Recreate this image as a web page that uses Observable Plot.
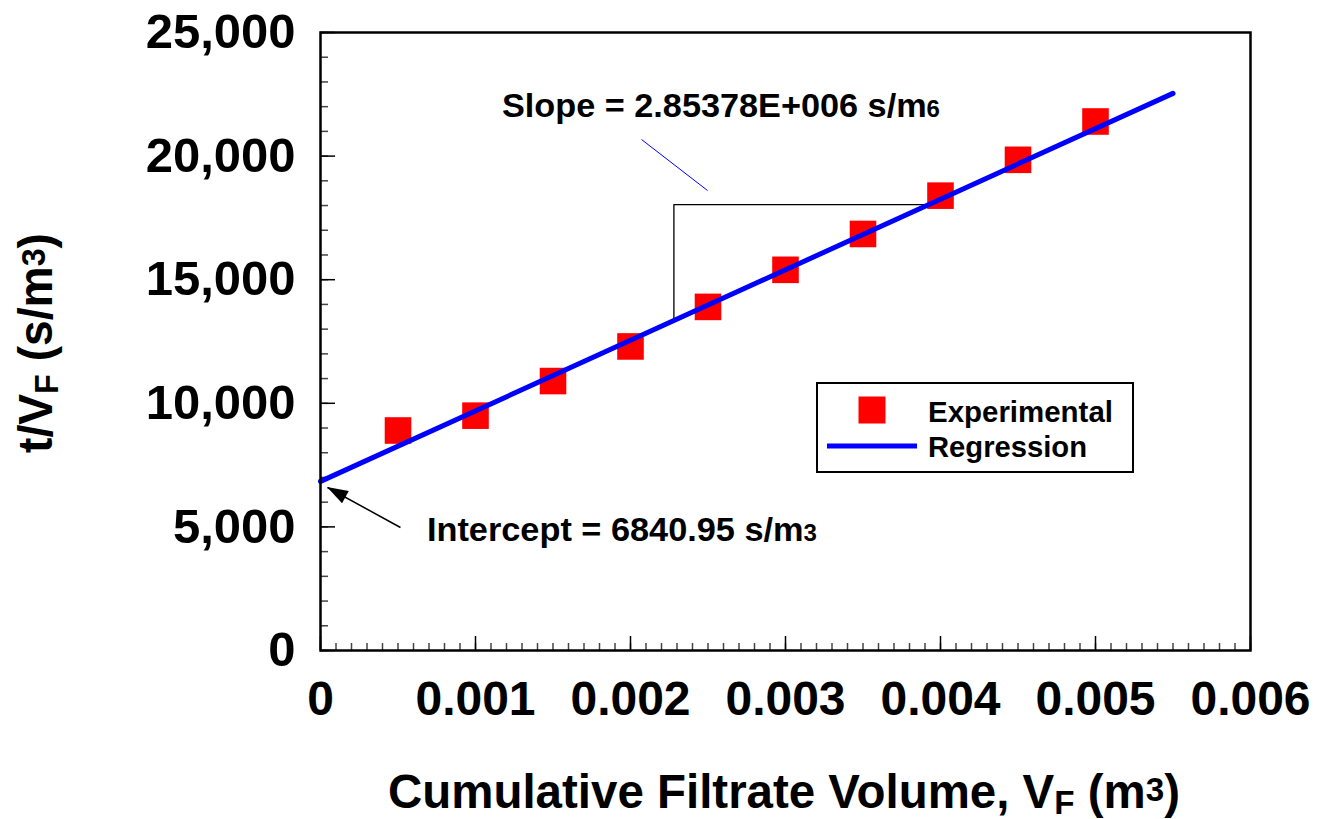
<!DOCTYPE html>
<html>
<head>
<meta charset="utf-8">
<script src="https://cdn.jsdelivr.net/npm/d3@7"></script>
<script src="https://cdn.jsdelivr.net/npm/@observablehq/plot@0.6"></script>
<style>
  body { margin: 0; background: #fff; }
  #chart svg { display: block; }
</style>
</head>
<body>
<div id="chart"></div>
<script>
// ---- data ----
const volume = [0.0005, 0.001, 0.0015, 0.002, 0.0025, 0.003, 0.0035, 0.004, 0.0045, 0.005];
const tOverV = [8900, 9500, 10900, 12300, 13900, 15400, 16850, 18400, 19850, 21400];
const regressionX = [0, 0.0055];
const regressionY = [6840.95, 22536.74];
const xTicks = [0, 0.001, 0.002, 0.003, 0.004, 0.005, 0.006];
const xTickLabels = ["0", "0.001", "0.002", "0.003", "0.004", "0.005", "0.006"];
const yTicks = [0, 5000, 10000, 15000, 20000, 25000];
const yTickLabels = ["0", "5,000", "10,000", "15,000", "20,000", "25,000"];
const seriesNames = ["Experimental", "Regression"];
const slopeLabel = "Slope = 2.85378E+006 s/m";
const interceptLabel = "Intercept = 6840.95 s/m";

const FONT = "'Liberation Sans', Arial, Helvetica, sans-serif";
const points = volume.map((v, i) => ({x: v, y: tOverV[i]}));
const regression = regressionX.map((v, i) => ({x: v, y: regressionY[i]}));
const xMinor = d3.ticks(0, 0.006, 60);
const yMinor = d3.ticks(0, 25000, 25);

const slopeTri = [
  {x: 0.00228, y: 13348},
  {x: 0.00228, y: 18040},
  {x: 0.003925, y: 18040}
];
const slopeLeader = [{x1: 0.002071, y1: 20672, x2: 0.002497, y2: 18608}];
const interceptArrow = [{x1: 0.000516, y1: 4976, x2: 0.0000452, y2: 6594}];

const plot = Plot.plot({
  width: 1318,
  height: 819,
  marginLeft: 320,
  marginRight: 68,
  marginTop: 32,
  marginBottom: 169,
  x: {domain: [0, 0.006], label: null},
  y: {domain: [0, 25000], label: null},
  style: {fontFamily: FONT, background: "white", overflow: "visible", color: "black"},
  marks: [
    // minor & major ticks pointing inward
    Plot.axisX(xMinor, {tickSize: 7, dy: -7, tickFormat: () => "", stroke: "#444", strokeWidth: 1.5}),
    Plot.axisX(xTicks, {tickSize: 14, dy: -14, tickFormat: () => "", stroke: "black", strokeWidth: 1.5}),
    Plot.axisY(yMinor, {tickSize: 8, dx: 8, tickFormat: () => "", stroke: "#444", strokeWidth: 1.5}),
    Plot.axisY(yTicks, {tickSize: 15, dx: 15, tickFormat: () => "", stroke: "black", strokeWidth: 1.5}),
    // tick labels
    Plot.axisX(xTicks, {tickSize: 0, tickPadding: 30, tickFormat: d => xTickLabels[xTicks.indexOf(d)],
      fontSize: 48, fontWeight: "bold", fill: "black"}),
    Plot.axisY(yTicks, {tickSize: 0, tickPadding: 25, tickFormat: d => yTickLabels[yTicks.indexOf(d)],
      fontSize: 49, fontWeight: "bold", fill: "black"}),
    // slope triangle & leader
    Plot.line(slopeTri, {x: "x", y: "y", stroke: "black", strokeWidth: 1.3}),
    Plot.link(slopeLeader, {x1: "x1", y1: "y1", x2: "x2", y2: "y2", stroke: "#0000ff", strokeWidth: 1}),
    // intercept arrow
    Plot.link(interceptArrow, {x1: "x1", y1: "y1", x2: "x2", y2: "y2", stroke: "black", strokeWidth: 1.5}),
    // data
    Plot.dot(points, {x: "x", y: "y", symbol: "square", r: 15, fill: "#ff0000", stroke: "none"}),
    Plot.line(regression, {x: "x", y: "y", stroke: "#0000ff", strokeWidth: 5}),
    Plot.frame({stroke: "black", strokeWidth: 2.5})
  ]
});

document.getElementById("chart").appendChild(plot);

const svg = d3.select(plot);
const sx = plot.scale("x"), sy = plot.scale("y");

// filled arrow head at the tip of the intercept arrow (drawn through the plot's scales)
{
  const a = interceptArrow[0];
  const x1 = sx.apply(a.x1), y1 = sy.apply(a.y1), x2 = sx.apply(a.x2), y2 = sy.apply(a.y2);
  const ang = Math.atan2(y2 - y1, x2 - x1) * 180 / Math.PI;
  svg.append("path")
    .attr("d", "M0,0 L-21,-7 L-21,7 Z")
    .attr("fill", "black")
    .attr("transform", `translate(${x2},${y2}) rotate(${ang})`);
}

// helper: text with small parts
function richText(parent, x, y, parts, size, opts = {}) {
  const t = parent.append("text")
    .attr("x", x).attr("y", y)
    .attr("font-family", FONT).attr("font-weight", "bold")
    .attr("font-size", size).attr("fill", "black")
    .attr("text-anchor", opts.anchor || "start");
  if (opts.transform) t.attr("transform", opts.transform);
  let shift = 0;
  for (const p of parts) {
    const s = typeof p === "string" ? {t: p} : p;
    const ts = t.append("tspan").text(s.t);
    const want = s.dy || 0;
    if (want !== shift) { ts.attr("dy", want - shift); shift = want; }
    if (s.small) ts.attr("font-size", size * 0.7);
  }
  if (opts.length) t.attr("textLength", opts.length).attr("lengthAdjust", "spacingAndGlyphs");
  return t;
}

const g = svg.append("g");
// annotations (positioned through the plot's scales)
richText(g, sx.apply(0.001174), sy.apply(21562), [slopeLabel, {t: "6", small: true}], 33, {length: 438});
richText(g, sx.apply(0.000690), sy.apply(4410), [interceptLabel, {t: "3", small: true}], 33, {length: 390});

// legend
const lg = svg.append("g");
lg.append("rect").attr("x", 817).attr("y", 383).attr("width", 316).attr("height", 89)
  .attr("fill", "white").attr("stroke", "black").attr("stroke-width", 2);
lg.append("rect").attr("x", 858.5).attr("y", 396.5).attr("width", 27).attr("height", 27).attr("fill", "#ff0000");
lg.append("line").attr("x1", 827).attr("x2", 917).attr("y1", 446).attr("y2", 446)
  .attr("stroke", "#0000ff").attr("stroke-width", 5);
richText(lg, 928, 422, [seriesNames[0]], 29, {length: 185});
richText(lg, 928, 457, [seriesNames[1]], 29, {length: 159});

// axis titles
richText(svg, 784, 808, ["Cumulative Filtrate Volume, V", {t: "F", small: true, dy: 6}, " (m", {t: "3", small: true, dy: -7}, ")"],
  48, {anchor: "middle", length: 792});
richText(svg, 0, 0, ["t/V", {t: "F", small: true, dy: 6}, " (s/m", {t: "3", small: true, dy: -7}, ")"],
  48, {anchor: "middle", length: 220, transform: "translate(52,343) rotate(-90)"});
</script>
</body>
</html>
